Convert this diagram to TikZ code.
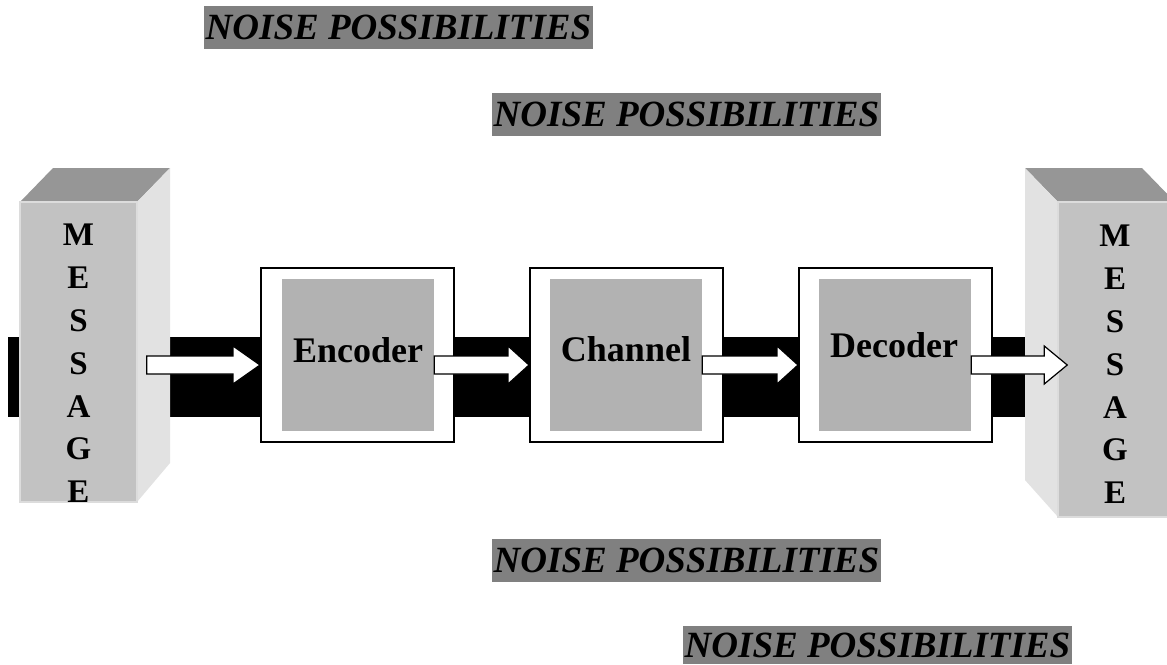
\documentclass[tikz,border=0pt]{standalone}
\usepackage{fontspec}
\setmainfont{Liberation Serif}
\usetikzlibrary{calc}
\definecolor{topgray}{HTML}{969696}
\definecolor{frontgray}{HTML}{C2C2C2}
\definecolor{sidegray}{HTML}{E2E2E2}
\definecolor{edgegray}{HTML}{DCDCDC}
\definecolor{boxgray}{HTML}{B2B2B2}
\definecolor{labelgray}{HTML}{808080}
\tikzset{
  front/.style={fill=frontgray, draw=edgegray, line width=1.5pt},
  topface/.style={fill=topgray},
  sideface/.style={fill=sidegray},
  msgtext/.style={inner sep=0pt, align=center, font=\bfseries\fontsize{33}{42.8}\selectfont},
  outerbox/.style={draw=black, fill=white, line width=2pt, minimum width=193pt, minimum height=174pt, inner sep=0pt},
  innerbox/.style={fill=boxgray, minimum width=152pt, minimum height=152pt, inner sep=0pt},
  boxtext/.style={inner sep=0pt, font=\bfseries\fontsize{36}{40}\selectfont},
  noise/.style={fill=labelgray, minimum width=389pt, minimum height=43pt, inner sep=0pt, font=\bfseries\itshape\fontsize{37}{40}\selectfont},
  fatarr/.style={draw=black, fill=white, line width=1.2pt, line join=miter},
}
\newcommand\fatarrow[3]{%
  \draw[fatarr] let \p1=#1, \p2=#2 in
    (\x1,-356pt) -- (\x2-#3pt,-356pt) -- (\x2-#3pt,-346pt) -- (\x2,-365pt)
    -- (\x2-#3pt,-384pt) -- (\x2-#3pt,-374pt) -- (\x1,-374pt) -- cycle;}
\begin{document}
\begin{tikzpicture}[x=1pt,y=-1pt]
\useasboundingbox (0,0) rectangle (1167,664);
\fill[white] (0,0) rectangle (1167,664);

% black band
\fill[black] (8,337) rectangle (1040,417);

% left message block
\fill[topface] (20,202) -- (53,168) -- (170,168) -- (137,202) -- cycle;
\fill[sideface] (137,202) -- (170,168) -- (170,463) -- (137,502) -- cycle;
\node[front, minimum width=117pt, minimum height=300pt, inner sep=0pt] (lmsg) at (78.5,352) {};
\node[msgtext] (ltext) at (78.5,363.5) {M\\E\\S\\S\\A\\G\\E};

% right message block
\fill[topface] (1025,168) -- (1142,168) -- (1175,202) -- (1058,202) -- cycle;
\fill[sideface] (1025,168) -- (1058,202) -- (1058,517) -- (1025,480) -- cycle;
\node[front, minimum width=117pt, minimum height=315pt, inner sep=0pt] (rmsg) at (1116.5,359.5) {};
\node[msgtext] (rtext) at (1115,364.5) {M\\E\\S\\S\\A\\G\\E};

% processing boxes
\node[outerbox] (encout) at (357.5,355) {};
\node[innerbox] (encin) at (358,355) {};
\node[boxtext] (enctext) at (358,350) {Encoder};

\node[outerbox] (chanout) at (626.5,355) {};
\node[innerbox] (chanin) at (626,355) {};
\node[boxtext] (chantext) at (626,349.5) {Channel};

\node[outerbox] (decout) at (895.5,355) {};
\node[innerbox] (decin) at (895,355) {};
\node[boxtext] (dectext) at (894,345) {Decoder};

% arrows
\coordinate (lstart) at ($(lmsg.east)+(9,0)$);
\coordinate (rtip) at ($(rmsg.west)+(10,0)$);
\fatarrow{(lstart)}{(encout.west)}{27}
\fatarrow{(encin.east)}{(chanout.west)}{21}
\fatarrow{(chanin.east)}{(decout.west)}{21}
\fatarrow{(decin.east)}{(rtip)}{23}

% noise labels
\node[noise] (n1) at (398.5,27) {NOISE POSSIBILITIES};
\node[noise] (n2) at (686.5,114) {NOISE POSSIBILITIES};
\node[noise] (n3) at (686.5,560.5) {NOISE POSSIBILITIES};
\node[noise, minimum height=38pt] (n4) at (877.5,645) {NOISE POSSIBILITIES};
\end{tikzpicture}
\end{document}
